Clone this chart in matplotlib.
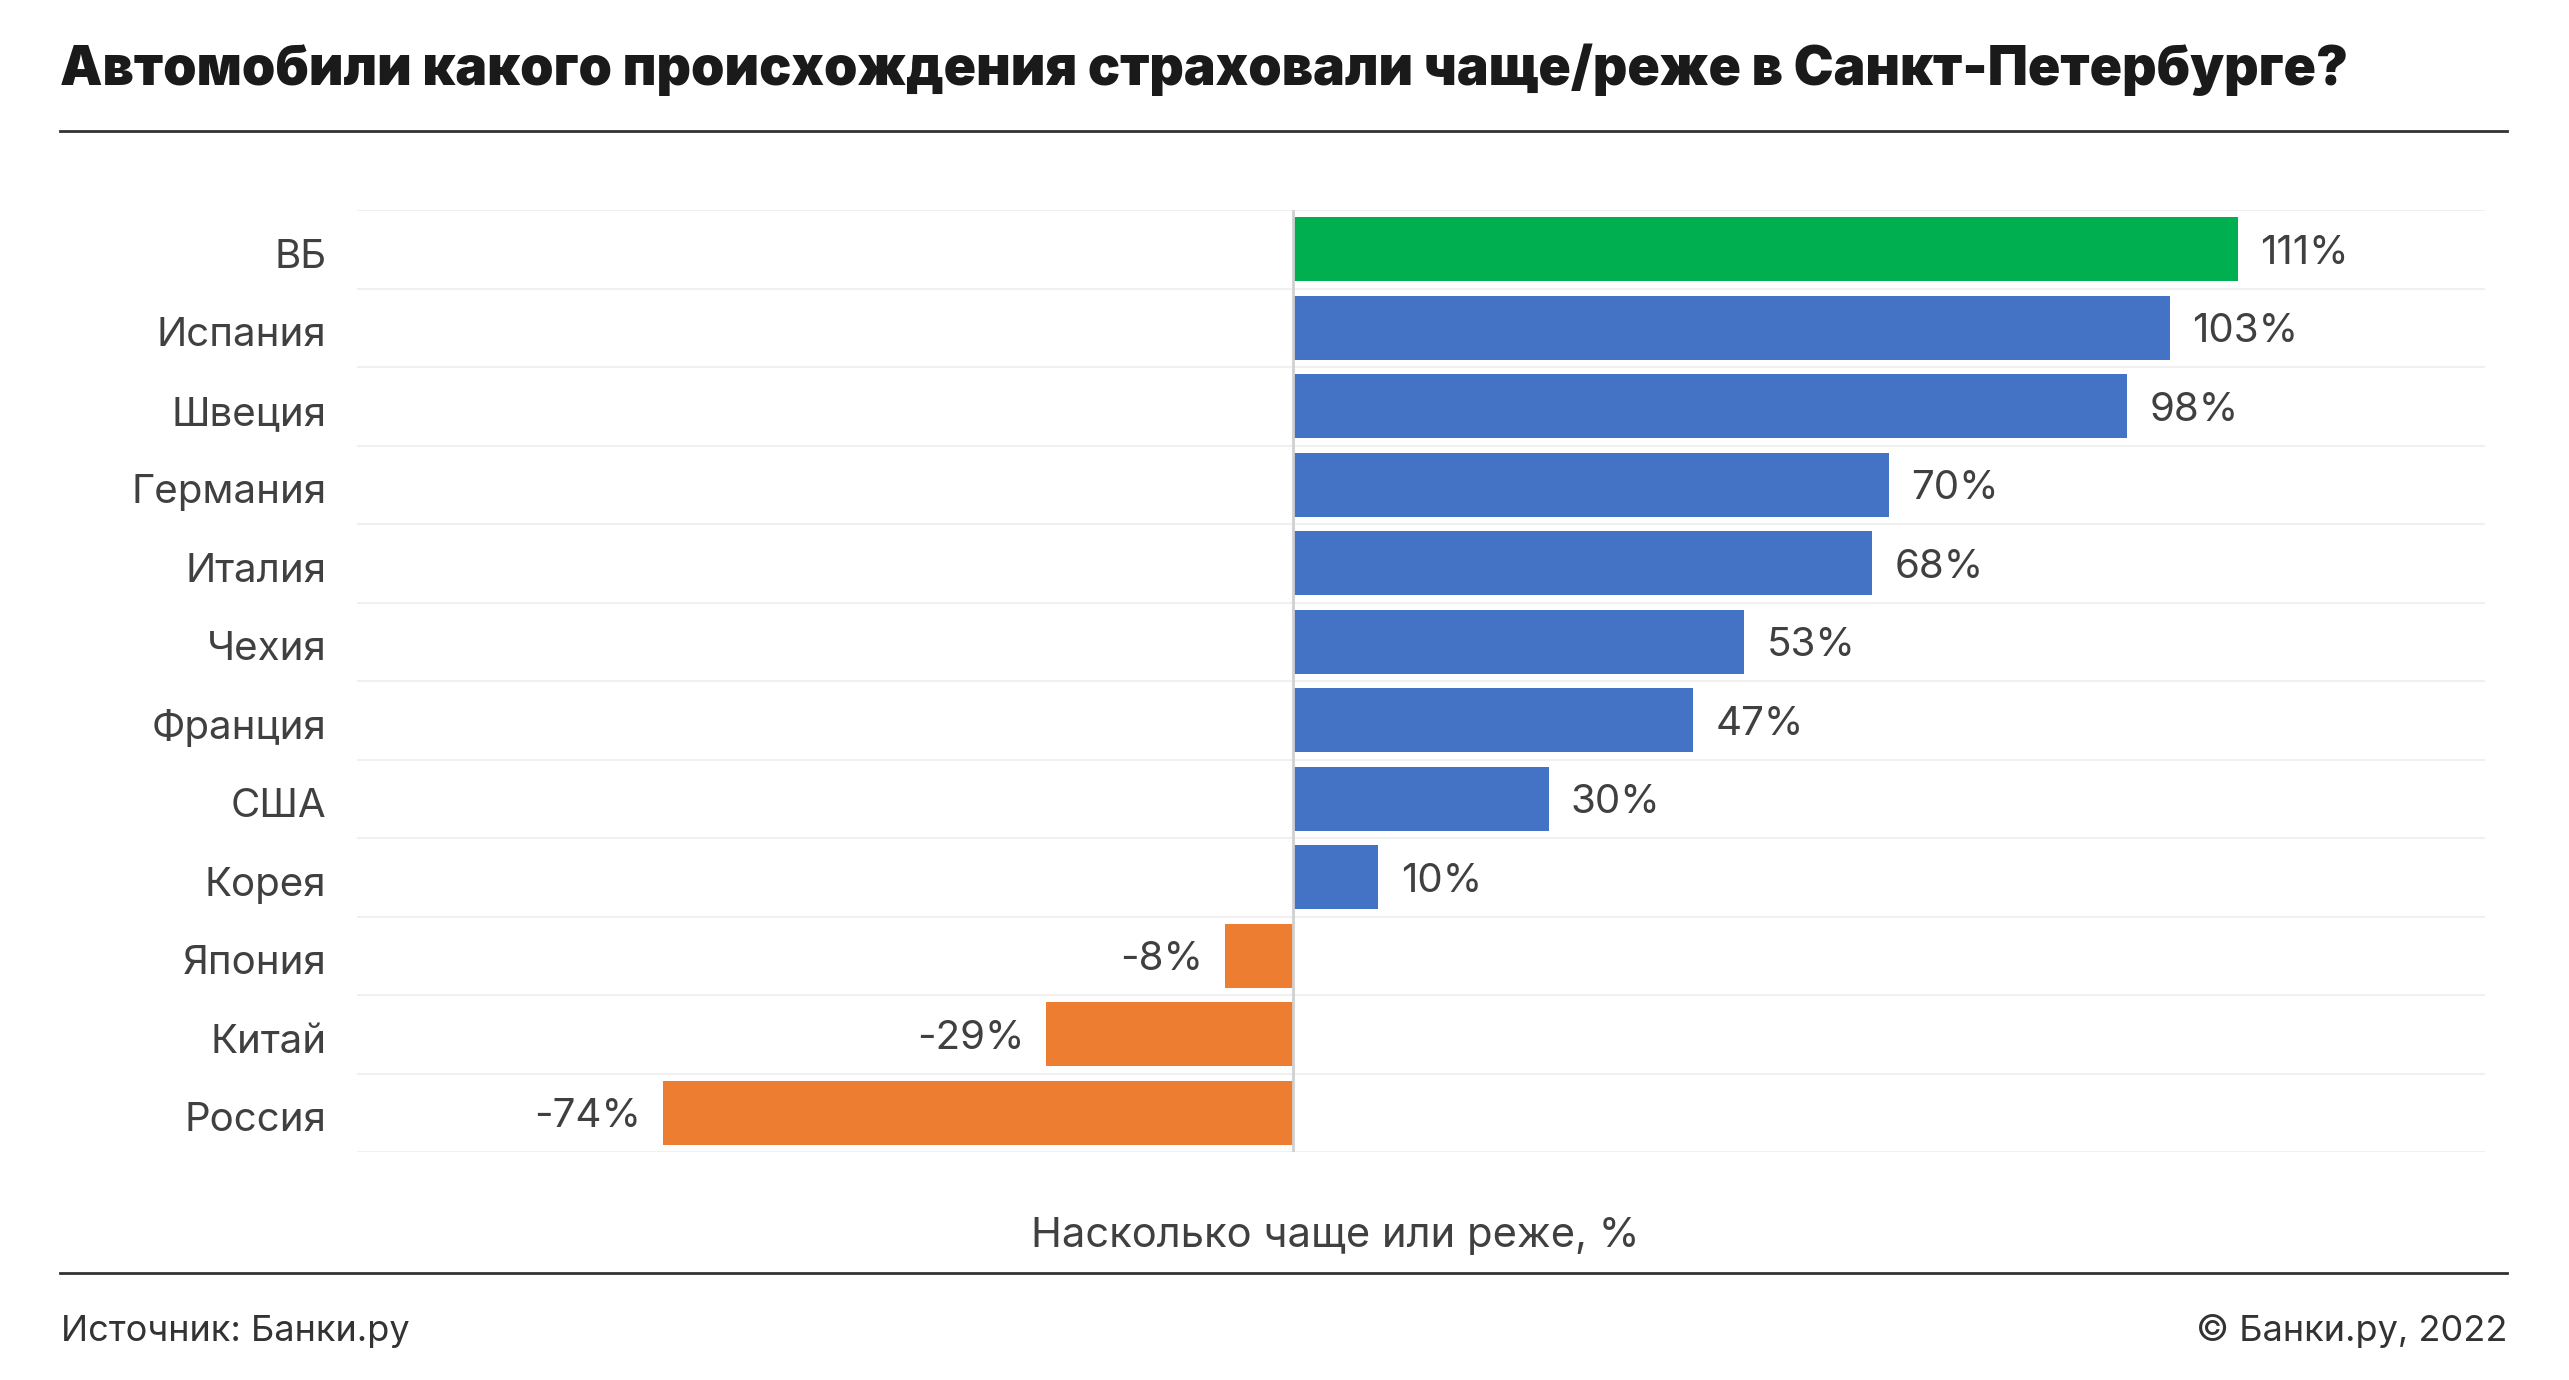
import matplotlib
matplotlib.use("Agg")
import matplotlib.pyplot as plt
from matplotlib.lines import Line2D
from matplotlib.transforms import ScaledTranslation

categories = ["ВБ", "Испания", "Швеция", "Германия", "Италия", "Чехия",
              "Франция", "США", "Корея", "Япония", "Китай", "Россия"]
values = [111, 103, 98, 70, 68, 53, 47, 30, 10, -8, -29, -74]
value_labels = ["111%", "103%", "98%", "70%", "68%", "53%", "47%", "30%", "10%", "-8%", "-29%", "-74%"]

title = "Автомобили какого происхождения страховали чаще/реже в Санкт-Петербурге?"
xlabel = "Насколько чаще или реже, %"
source = "Источник: Банки.ру"
copyright_text = "© Банки.ру, 2022"

GREEN = "#00B050"
BLUE = "#4472C4"
ORANGE = "#ED7D31"
TEXT = "#404040"

plt.rcParams['font.family'] = ['Inter', 'DejaVu Sans']

W, H = 2569, 1380
fig = plt.figure(figsize=(W / 100, H / 100), dpi=100)
fig.patch.set_facecolor("white")

ax = fig.add_axes([357 / W, 228 / H, (2485 - 357) / W, (1152 - 210) / H])
ax.set_xlim(-110, 140)
ax.set_ylim(len(categories) - 0.5, -0.5)

colors = []
for i, v in enumerate(values):
    if i == 0:
        colors.append(GREEN)
    elif v >= 0:
        colors.append(BLUE)
    else:
        colors.append(ORANGE)

ypos = list(range(len(categories)))
ax.barh(ypos, values, height=0.81, color=colors, zorder=2)

for y in [i - 0.5 for i in range(len(categories) + 1)]:
    ax.axhline(y, color="#F0F0F0", lw=1.5, zorder=1)
ax.axvline(0, color="#D0D0D0", lw=2, zorder=3)

down = ScaledTranslation(0, -4 / 100, fig.dpi_scale_trans)
for y, v, lab in zip(ypos, values, value_labels):
    if v >= 0:
        ax.text(v + 2.6, y, lab, ha="left", va="center", fontsize=29, color=TEXT,
                transform=ax.transData + down)
    else:
        ax.text(v - 2.6, y, lab, ha="right", va="center", fontsize=29, color=TEXT,
                transform=ax.transData + down)

ax.set_yticks(ypos)
ax.set_yticklabels(categories, fontsize=29, color=TEXT)
ax.tick_params(axis="y", length=0, pad=22)
for t in ax.get_yticklabels():
    t.set_transform(t.get_transform() + down)
ax.set_xticks([])
for s in ax.spines.values():
    s.set_visible(False)

fig.text(60 / W, 1 - 70 / H, title, fontsize=38.5, fontweight="black", color="#1A1A1A",
         ha="left", va="center")
fig.add_artist(Line2D([60 / W, 2507 / W], [1 - 131 / H, 1 - 131 / H], color="#333333", lw=2))
fig.text(1335 / W, 1 - 1236 / H, xlabel, fontsize=30, color=TEXT, ha="center", va="center")
fig.add_artist(Line2D([60 / W, 2507 / W], [1 - 1273 / H, 1 - 1273 / H], color="#333333", lw=2))
fig.text(61 / W, 1 - 1331 / H, source, fontsize=26, color="#333333", ha="left", va="center")
fig.text(2507 / W, 1 - 1331 / H, copyright_text, fontsize=26, color="#333333", ha="right", va="center")

fig.savefig("out.png", dpi=100, facecolor="white")
